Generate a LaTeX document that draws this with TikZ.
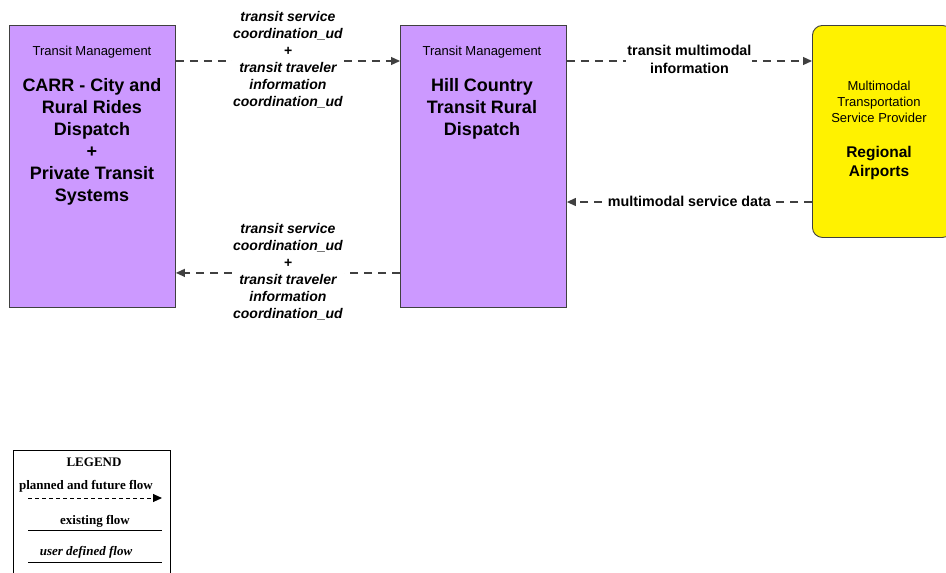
\documentclass[tikz,border=0pt]{standalone}
\usepackage{fontspec}
\setmainfont{Liberation Sans}
\newfontfamily\legendfont{Liberation Serif}
\usetikzlibrary{arrows.meta,calc}
\definecolor{tmpurple}{HTML}{CC99FF}
\definecolor{flowgray}{HTML}{404040}
\tikzset{
  x=1pt,y=-1pt,
  entbox/.style={draw=black!75,line width=0.9pt,rectangle,anchor=north west,inner sep=0pt},
  tmbox/.style={entbox,fill=tmpurple,minimum width=166pt,minimum height=282pt},
  titletext/.style={font=\fontsize{13}{16}\selectfont,align=center},
  nametext/.style={font=\fontsize{18}{22}\selectfont\bfseries,align=center,anchor=north},
  flow/.style={draw=flowgray,line width=1.2pt,dash pattern=on 8pt off 6pt,-{Triangle[length=9pt,width=8pt]}},
  flowlabel/.style={font=\fontsize{14}{17}\selectfont\bfseries\itshape,align=center,fill=white,inner sep=1pt},
  flowlabelup/.style={font=\fontsize{14.3}{17.5}\selectfont\bfseries,align=center,fill=white,inner sep=1pt},
  legtext/.style={font=\legendfont\fontsize{13}{15}\selectfont\bfseries}
}
\begin{document}
\begin{tikzpicture}
\useasboundingbox (0,0) rectangle (946,573);
% entities
\node[tmbox] (carr) at (9,25) {};
\node[titletext] (carrt) at (92,52) {Transit Management};
\node[nametext] (carrn) at (92,75) {CARR - City and\\Rural Rides\\Dispatch\\+\\Private Transit\\Systems};

\node[tmbox] (hill) at (400,25) {};
\node[titletext] (hillt) at (482,52) {Transit Management};
\node[nametext] (hilln) at (482,75) {Hill Country\\Transit Rural\\Dispatch};

\node[entbox,fill=yellow,rounded corners=10pt,minimum width=140pt,minimum height=212pt] (air) at (812,25) {};
\node[titletext,anchor=north,font=\fontsize{13}{16}\selectfont] (airt) at (879,78) {Multimodal\\Transportation\\Service Provider};
\node[nametext,font=\fontsize{15.5}{18.5}\selectfont\bfseries] (airn) at (879,143) {Regional\\Airports};

% flows
\draw[flow] ([yshift=-36pt]carr.north east) -- node[flowlabel,yshift=1.5pt] (l1) {transit service\\coordination\_ud\\+\\transit traveler\\information\\coordination\_ud} ([yshift=-36pt]hill.north west);
\draw[flow] ([yshift=35pt]hill.south west) -- node[flowlabel,yshift=1pt] (l2) {transit service\\coordination\_ud\\+\\transit traveler\\information\\coordination\_ud} ([yshift=35pt]carr.south east);
\draw[flow] ([yshift=-36pt]hill.north east) -- node[flowlabelup,yshift=1.5pt] (l3) {transit multimodal\\information} ([yshift=-36pt]air.north west);
\draw[flow] ([yshift=-177pt]air.north west) -- node[flowlabelup,inner sep=0.5pt,yshift=0.5pt] (l4) {multimodal service data} ([yshift=-177pt]hill.north east);

% legend
\draw[black,line width=0.8pt] (13,575) -- (13,450) -- (170,450) -- (170,575);
\node[legtext] (lg) at (94,462) {LEGEND};
\node[legtext] (lg1) at (86,486) {planned and future flow};
\coordinate (a1) at (28,498);
\coordinate (a2) at (162,498);
\draw[black,line width=1pt,dash pattern=on 4pt off 3pt,-{Triangle[length=9pt,width=8pt]}] (a1) -- (a2);
\node[legtext] (lg2) at (95,521) {existing flow};
\coordinate (b1) at (28,530);
\coordinate (b2) at (162,530);
\draw[black,line width=1pt] (b1) -- (b2);
\node[legtext,font=\legendfont\fontsize{13}{15}\selectfont\bfseries\itshape] (lg3) at (86,552) {user defined flow};
\coordinate (c1) at (28,562);
\coordinate (c2) at (162,562);
\draw[black,line width=1pt] (c1) -- (c2);
\end{tikzpicture}
\end{document}
